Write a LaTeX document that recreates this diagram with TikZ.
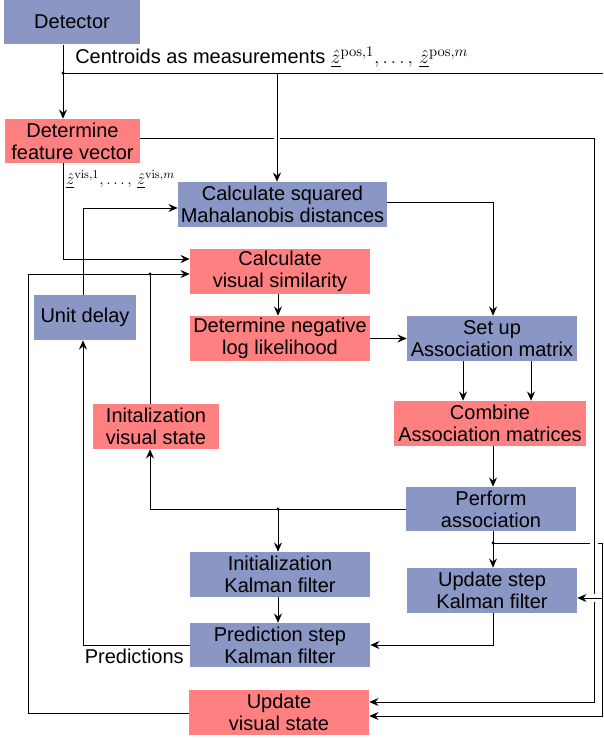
\documentclass[tikz,border=0pt]{standalone}
\usepackage[no-math]{fontspec}
\setmainfont{Liberation Sans}
\usetikzlibrary{arrows.meta,calc}
\definecolor{bl}{RGB}{138,150,196}
\definecolor{rd}{RGB}{255,128,128}
\begin{document}
\begin{tikzpicture}[x=0.75pt,y=-0.75pt,
  box/.style={rectangle, inner sep=0pt, align=center, font=\fontsize{15}{16.5}\selectfont, anchor=center},
  bbox/.style={box, fill=bl},
  rbox/.style={box, fill=rd},
  line/.style={line width=0.7pt},
  arr/.style={line, -{Stealth[length=7pt,width=6pt,inset=2.5pt]}},
  dot/.style={circle, fill, inner sep=0pt, minimum size=2.4pt},
  lbl/.style={inner sep=0pt, font=\fontsize{15}{16.5}\selectfont}]
\useasboundingbox (0,0) rectangle (603,738);

% boxes
\node[bbox, minimum width=102pt, minimum height=33.75pt] (det) at (72,22) {Detector};
\node[rbox, minimum width=101.25pt, minimum height=33pt] (fv) at (72.5,141) {Determine\\feature vector};
\node[bbox, minimum width=156.75pt, minimum height=33.75pt] (cs) at (282.5,204.5) {Calculate squared\\Mahalanobis distances};
\node[rbox, minimum width=135pt, minimum height=33.75pt] (vs) at (280,271.5) {Calculate\\visual similarity};
\node[bbox, minimum width=76.5pt, minimum height=33.75pt] (ud) at (85,317.5) {Unit delay};
\node[rbox, minimum width=135pt, minimum height=33.75pt] (nl) at (280,338.5) {Determine negative\\log likelihood};
\node[bbox, minimum width=127.5pt, minimum height=33.75pt] (sa) at (492,338.5) {Set up\\Association matrix};
\node[rbox, minimum width=94.5pt, minimum height=33.75pt] (iv) at (156,426.5) {Initalization\\visual state};
\node[rbox, minimum width=144pt, minimum height=33.75pt] (ca) at (490,423.5) {Combine\\Association matrices};
\node[bbox, minimum width=127.5pt, minimum height=33pt] (pa) at (491,509) {Perform\\association};
\node[bbox, minimum width=135pt, minimum height=33.75pt] (ik) at (280,574.5) {Initialization\\Kalman filter};
\node[bbox, minimum width=127.5pt, minimum height=33.75pt] (us) at (492,590.5) {Update step\\Kalman filter};
\node[bbox, minimum width=135pt, minimum height=33pt] (ps) at (280,645) {Prediction step\\Kalman filter};
\node[rbox, minimum width=135pt, minimum height=33.75pt] (uv) at (279,712.5) {Update\\visual state};

% labels
\node[lbl, anchor=base west] (lc) at (75,64) {Centroids as measurements $\underline{\hat{z}}^{\mathrm{pos},1},\ldots,\,\underline{\hat{z}}^{\mathrm{pos},m}$};
\node[lbl, anchor=base west, font=\fontsize{13}{15}\selectfont] (lv) at (66,185) {$\underline{\hat{z}}^{\mathrm{vis},1},\ldots,\,\underline{\hat{z}}^{\mathrm{vis},m}$};
\node[lbl, anchor=base east] (lp) at (184,663) {Predictions};

% detector output
\coordinate (j1) at (63,73);
\coordinate (j2) at (277,73);
\coordinate (e1) at (603,73);
\draw[line] (det.south -| j1) -- (j1) -- (e1);
\draw[arr] (j1) -- (fv.north -| j1);
\draw[arr] (j2) -- (cs.north -| j2);
\node[dot] (dj1) at (j1) {};

% feature vector -> visual similarity
\coordinate (f1) at (63,259);
\draw[arr] (fv.south -| f1) -- (f1) -- (vs.west |- f1);

% feature vector -> update visual state (right side)
\coordinate (r0) at (274,138);
\coordinate (r0b) at (280,138);
\coordinate (r1) at (594,138);
\coordinate (r2) at (594,594);
\coordinate (r3) at (594,602);
\coordinate (r4) at (594,702);
\draw[line] (fv.east |- r0) -- (r0);
\draw[line] (r0b) -- (r1) -- (r2);
\draw[arr] (r3) -- (r4) -- (uv.east |- r4);

% mahalanobis -> set up
\coordinate (m1) at (493,202);
\draw[arr] (cs.east |- m1) -- (m1) -- (sa.north -| m1);

% unit delay loop
\coordinate (u1) at (83,645);
\coordinate (u2) at (83,208);
\draw[arr] (ps.west) -- (u1) -- (ud.south -| u1);
\draw[arr] (ud.north -| u2) -- (u2) -- (cs.west |- u2);

% outer loop
\coordinate (o1) at (28,713);
\coordinate (o2) at (28,274);
\coordinate (o3) at (150,274);
\draw[arr] (uv.west |- o1) -- (o1) -- (o2) -- (vs.west |- o2);
\draw[line] (iv.north -| o3) -- (o3);
\node[dot] (do3) at (o3) {};

% perform association -> initialisations
\coordinate (p1) at (150,509);
\coordinate (p2) at (278,509);
\draw[arr] (pa.west |- p1) -- (p1) -- (iv.south -| p1);
\draw[arr] (p2) -- (ik.north -| p2);
\node[dot] (dp2) at (p2) {};
\draw[arr] (ik.south -| p2) -- (ps.north -| p2);

% middle chain
\draw[arr] (vs.south -| p2) -- (nl.north -| p2);
\draw[arr] (nl.east) -- (sa.west);
\coordinate (s1) at (463,0);
\coordinate (s2) at (531,0);
\draw[arr] (sa.south -| s1) -- (ca.north -| s1);
\draw[arr] (sa.south -| s2) -- (ca.north -| s2);
\coordinate (c1) at (493,543);
\draw[arr] (ca.south -| c1) -- (pa.north -| c1);
\draw[arr] (pa.south -| c1) -- (us.north -| c1);
\node[dot] (dc1) at (c1) {};

% association -> update visual state / update step
\coordinate (q1) at (590,543);
\coordinate (q2) at (598,543);
\coordinate (q3) at (602,543);
\coordinate (q4) at (602,716);
\coordinate (q5) at (602,598);
\draw[line] (c1) -- (q1);
\draw[arr] (q2) -- (q3) -- (q4) -- (uv.east |- q4);
\draw[arr] (q5) -- (us.east |- q5);

% update step -> prediction step
\coordinate (k1) at (493,645);
\draw[arr] (us.south -| k1) -- (k1) -- (ps.east);
\end{tikzpicture}
\end{document}
